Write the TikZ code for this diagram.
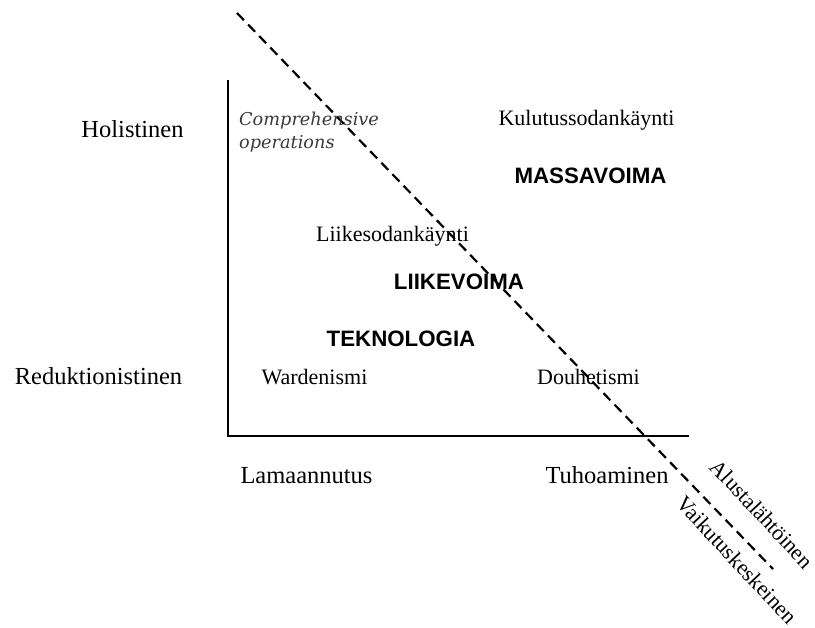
\documentclass[tikz,border=0pt]{standalone}
\usepackage{fontspec}
\setmainfont{Liberation Serif}
\newfontfamily\capsfont{Liberation Sans}
\newfontfamily\compfont{DejaVu Serif}
\definecolor{compgray}{HTML}{3A3A3A}
\begin{document}
\begin{tikzpicture}[x=1pt,y=-1pt,
  axislab/.style={anchor=base,inner sep=0pt,font=\fontsize{24.5}{28}\selectfont},
  innerlab/.style={anchor=base,inner sep=0pt,font=\fontsize{22}{26}\selectfont},
  boldlab/.style={anchor=base,inner sep=0pt,font=\capsfont\bfseries\fontsize{22.3}{26}\selectfont},
  rotlab/.style={anchor=center,inner sep=0pt,rotate=-47,font=\fontsize{22}{26}\selectfont},
  axisline/.style={line width=1.8pt},
  divline/.style={line width=2.2pt,dash pattern=on 10pt off 6pt}]
\useasboundingbox (0,0) rectangle (815,628);
% axes
\coordinate (ytop) at (228,80);
\coordinate (orig) at (228,436);
\coordinate (xend) at (689,436);
\draw[axisline] (ytop) -- (orig) -- (xend);
% dividing line
\coordinate (dA) at (237,13);
\coordinate (dB) at (773,569);
\draw[divline] (dA) -- (dB);
% axis labels
\node[axislab] (hol) at (132.5,138) {Holistinen};
\node[axislab] (red) at (98.5,385) {Reduktionistinen};
\node[axislab] (lam) at (306.5,484) {Lamaannutus};
\node[axislab] (tuh) at (607,484) {Tuhoaminen};
% inner labels
\node[anchor=north west,inner sep=0pt,align=left,text=compgray,
  font=\compfont\itshape\fontsize{17.7}{22.5}\selectfont] (comp) at (239,112) {Comprehensive\\operations};
\node[innerlab] (kul) at (586.5,126) {Kulutussodankäynti};
\node[boldlab] (mas) at (590.5,184) {MASSAVOIMA};
\node[innerlab] (lii) at (392.5,242) {Liikesodankäynti};
\node[boldlab] (liv) at (459,290) {LIIKEVOIMA};
\node[boldlab] (tek) at (401,347) {TEKNOLOGIA};
\node[innerlab] (war) at (314.5,385) {Wardenismi};
\node[innerlab] (dou) at (588.5,385) {Douhetismi};
% rotated labels
\node[rotlab] (alu) at (762,514) {Alustalähtöinen};
\node[rotlab] (vai) at (737,560) {Vaikutuskeskeinen};
\end{tikzpicture}
\end{document}
